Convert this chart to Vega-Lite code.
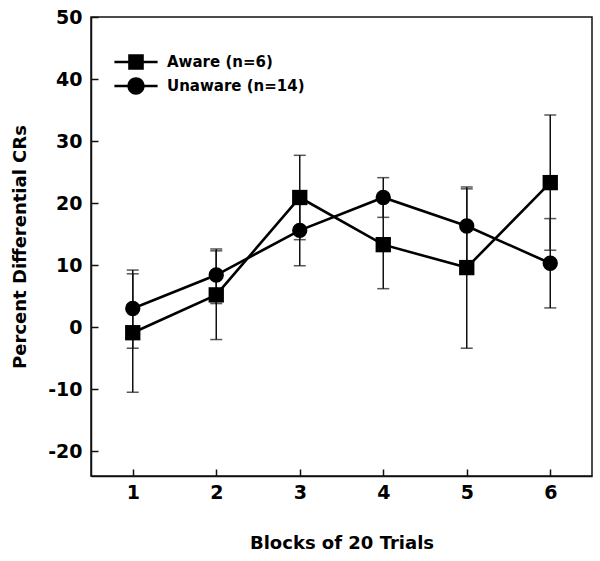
{
  "$schema": "https://vega.github.io/schema/vega-lite/v6.json",
  "width": 501,
  "height": 459,
  "autosize": {"type": "none"},
  "padding": {"left": 91, "top": 17, "right": 8, "bottom": 85},
  "background": "white",
  "config": {
    "font": "DejaVu Sans",
    "view": {"stroke": "#111", "strokeWidth": 1.5},
    "axis": {
      "grid": false,
      "domainColor": "#111",
      "domainWidth": 1.5,
      "tickColor": "#111",
      "tickWidth": 1.5,
      "labelFont": "DejaVu Sans",
      "labelFontWeight": "bold",
      "labelFontSize": 19,
      "labelColor": "black",
      "titleFont": "DejaVu Sans",
      "titleFontWeight": "bold",
      "titleFontSize": 18,
      "titleColor": "black"
    }
  },
  "data": {
    "values": [
      {"block": 1, "group": "Aware (n=6)", "mean": -0.9, "lo": -10.5, "hi": 8.6},
      {"block": 2, "group": "Aware (n=6)", "mean": 5.2, "lo": -2.0, "hi": 12.3},
      {"block": 3, "group": "Aware (n=6)", "mean": 20.9, "lo": 14.1, "hi": 27.7},
      {"block": 4, "group": "Aware (n=6)", "mean": 13.3, "lo": 6.2, "hi": 20.4},
      {"block": 5, "group": "Aware (n=6)", "mean": 9.6, "lo": -3.4, "hi": 22.6},
      {"block": 6, "group": "Aware (n=6)", "mean": 23.3, "lo": 12.4, "hi": 34.2},
      {"block": 1, "group": "Unaware (n=14)", "mean": 3.0, "lo": -3.4, "hi": 9.2},
      {"block": 2, "group": "Unaware (n=14)", "mean": 8.4, "lo": 3.8, "hi": 12.6},
      {"block": 3, "group": "Unaware (n=14)", "mean": 15.6, "lo": 9.9, "hi": 21.3},
      {"block": 4, "group": "Unaware (n=14)", "mean": 20.9, "lo": 17.7, "hi": 24.1},
      {"block": 5, "group": "Unaware (n=14)", "mean": 16.3, "lo": 10.3, "hi": 22.3},
      {"block": 6, "group": "Unaware (n=14)", "mean": 10.3, "lo": 3.1, "hi": 17.5}
    ]
  },
  "encoding": {
    "x": {
      "field": "block",
      "type": "quantitative",
      "scale": {"domain": [0.5, 6.5], "nice": false, "zero": false},
      "axis": {"values": [1, 2, 3, 4, 5, 6], "title": "Blocks of 20 Trials", "tickSize": -7, "labelPadding": 14, "titlePadding": 32}
    }
  },
  "resolve": {"scale": {"shape": "independent"}, "legend": {"shape": "independent"}},
  "layer": [
    {
      "mark": {"type": "errorbar", "ticks": {"size": 12, "thickness": 1.5, "color": "#111"}, "rule": {"strokeWidth": 1.5, "color": "#111"}},
      "encoding": {
        "y": {"field": "lo", "type": "quantitative", "scale": {"domain": [-24, 50], "nice": false, "zero": false},
          "axis": {"values": [-20, -10, 0, 10, 20, 30, 40, 50], "title": "Percent Differential CRs", "tickSize": -7, "labelPadding": 16, "titlePadding": 18, "labelExpr": "'' + datum.value"}},
        "y2": {"field": "hi"},
        "detail": {"field": "group"}
      }
    },
    {
      "mark": {"type": "line", "color": "black", "strokeWidth": 2.6},
      "encoding": {
        "y": {"field": "mean", "type": "quantitative"},
        "detail": {"field": "group"}
      }
    },
    {
      "mark": {"type": "point", "filled": true, "color": "black", "opacity": 1, "size": 235},
      "encoding": {
        "y": {"field": "mean", "type": "quantitative"},
        "shape": {
          "field": "group",
          "type": "nominal",
          "scale": {"domain": ["Aware (n=6)", "Unaware (n=14)"], "range": ["square", "circle"]},
          "legend": null
        }
      }
    },
    {
      "mark": {"type": "point", "filled": true, "color": "black", "opacity": 0, "size": 1},
      "encoding": {
        "y": {"field": "mean", "type": "quantitative"},
        "shape": {
          "field": "group",
          "type": "nominal",
          "scale": {"domain": ["Aware (n=6)", "Unaware (n=14)"], "range": [
            "M-1.8,-0.1L-0.65,-0.1L-0.65,-0.65L0.65,-0.65L0.65,-0.1L1.8,-0.1L1.8,0.1L0.65,0.1L0.65,0.65L-0.65,0.65L-0.65,0.1L-1.8,0.1Z",
            "M-1.8,-0.1L-0.713,-0.1A0.72,0.72 0 0 1 0.713,-0.1L1.8,-0.1L1.8,0.1L0.713,0.1A0.72,0.72 0 0 1 -0.713,0.1L-1.8,0.1Z"
          ]},
          "legend": {
            "title": null,
            "orient": "none",
            "legendX": 33,
            "legendY": 33,
            "padding": 0,
            "rowPadding": 4,
            "symbolSize": 576,
            "symbolFillColor": "black",
            "symbolStrokeWidth": 0,
            "symbolOpacity": 1,
            "labelFont": "DejaVu Sans",
            "labelFontWeight": "bold",
            "labelFontSize": 15,
            "labelColor": "black",
            "labelOffset": 19
          }
        }
      }
    }
  ]
}
